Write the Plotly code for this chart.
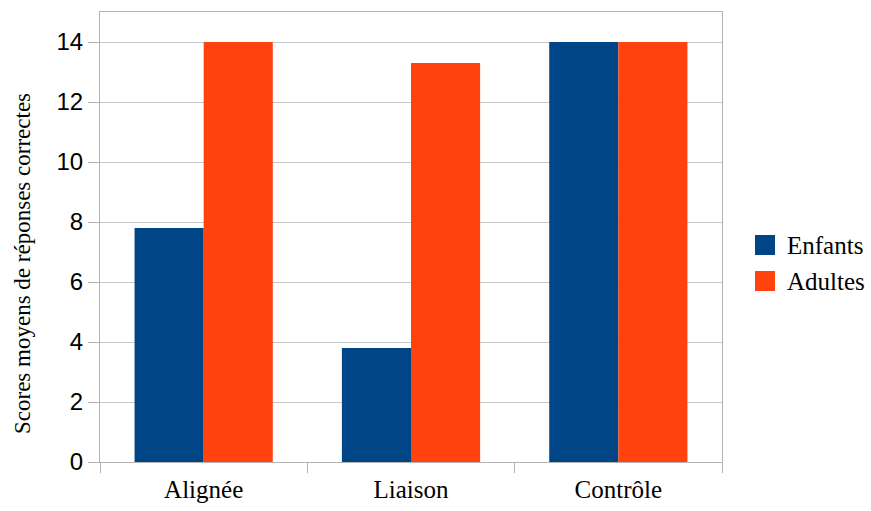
import plotly.graph_objects as go

categories = ["Alignée", "Liaison", "Contrôle"]
enfants = [7.8, 3.8, 14.0]
adultes = [14.0, 13.3, 14.0]
series_names = ["Enfants", "Adultes"]
colors = ["#004586", "#ff420e"]
y_title = "Scores moyens de réponses correctes"

fig = go.Figure()
for name, vals, col in zip(series_names, [enfants, adultes], colors):
    fig.add_trace(go.Bar(x=categories, y=vals, name=name, marker_color=col,
                         marker_line_width=0, showlegend=False, hoverinfo="skip"))

W, H = 871, 511
L, R, T, B = 100, 149, 12, 49

# manual legend (squares + labels)
leg_y = [245, 281]
shapes = []
annotations = []
for name, col, yc in zip(series_names, colors, leg_y):
    shapes.append(dict(type="rect", xref="paper", yref="paper",
                       x0=(755 - L) / (W - L - R), x1=(775 - L) / (W - L - R),
                       y0=(H - B - (yc + 10)) / (H - T - B), y1=(H - B - (yc - 10)) / (H - T - B),
                       fillcolor=col, line_width=0))
    annotations.append(dict(text=name, xref="paper", yref="paper",
                            x=(785 - L) / (W - L - R), y=(H - B - yc) / (H - T - B),
                            xanchor="left", yanchor="middle", showarrow=False,
                            font=dict(family="Liberation Serif", size=25, color="black")))

annotations.append(dict(text=y_title, xref="paper", yref="paper",
                        x=(22 - L) / (W - L - R), y=(H - B - 264) / (H - T - B),
                        xanchor="center", yanchor="middle", textangle=-90, showarrow=False,
                        font=dict(family="Liberation Serif", size=23, color="black")))

fig.update_layout(
    width=W, height=H,
    margin=dict(l=L, r=R, t=T, b=B, pad=0, autoexpand=False),
    paper_bgcolor="white", plot_bgcolor="white",
    barmode="group", bargap=1/3, bargroupgap=0,
    showlegend=False,
    shapes=shapes, annotations=annotations,
    xaxis=dict(showline=True, linecolor="#b3b3b3", linewidth=1, mirror=True,
               ticks="outside", tickson="boundaries", ticklen=10, tickcolor="#b3b3b3",
               showgrid=False, ticklabelstandoff=5, automargin=False,
               tickfont=dict(family="Liberation Serif", size=25, color="black")),
    yaxis=dict(range=[0, 15], tickvals=[0, 2, 4, 6, 8, 10, 12, 14],
               showline=True, linecolor="#b3b3b3", linewidth=1, mirror=True,
               ticks="outside", ticklen=11, tickcolor="#b3b3b3", automargin=False,
               showgrid=True, gridcolor="#c8c8c8", gridwidth=1, zeroline=False,
               tickfont=dict(family="Liberation Sans", size=24, color="black")),
)

fig.write_html("out.html", config={"displayModeBar": False},
               post_script="document.body.style.margin='0';")
